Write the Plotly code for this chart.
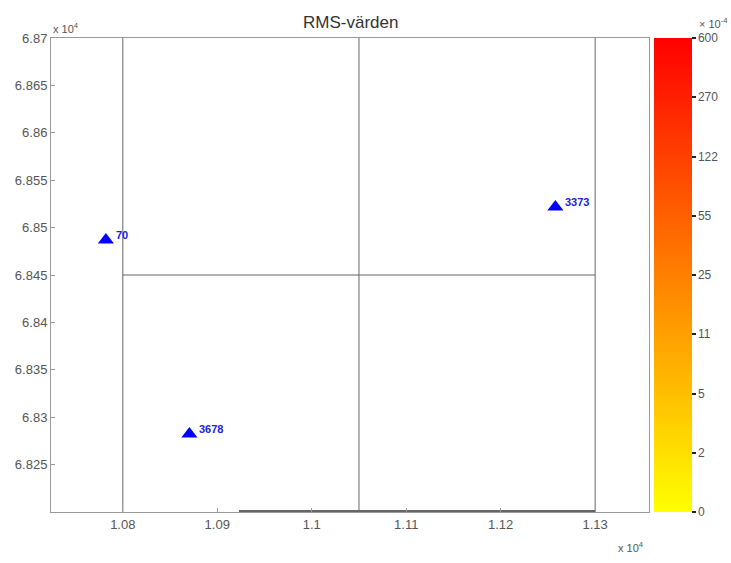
import plotly.graph_objects as go

# Data (axes in units of 1e4)
pt_x = [1.07821, 1.12579, 1.08705]
pt_y = [6.84869, 6.85217, 6.82823]
pt_labels = ["70", "3373", "3678"]

# Boundary lines (x pairs, y pairs)
seg_x = [[1.08, 1.08], [1.105, 1.105], [1.13, 1.13], [1.08, 1.13], [1.0923, 1.13]]
seg_y = [[6.82, 6.87], [6.82, 6.87], [6.82, 6.87], [6.845, 6.845], [6.8201, 6.8201]]
seg_w = [1, 1, 1, 1, 2]

x_ticks = [1.08, 1.09, 1.10, 1.11, 1.12, 1.13]
x_ticktext = ["1.08", "1.09", "1.1", "1.11", "1.12", "1.13"]
y_ticks = [6.825, 6.83, 6.835, 6.84, 6.845, 6.85, 6.855, 6.86, 6.865, 6.87]
y_ticktext = ["6.825", "6.83", "6.835", "6.84", "6.845", "6.85", "6.855", "6.86", "6.865", "6.87"]

cb_ticktext = ["0", "2", "5", "11", "25", "55", "122", "270", "600"]
cb_tickvals = list(range(len(cb_ticktext)))

FONT = "Liberation Sans, Arial, sans-serif"
TXT = "#555555"

fig = go.Figure()

for sx, sy, w in zip(seg_x, seg_y, seg_w):
    fig.add_trace(go.Scatter(x=sx, y=sy, mode="lines",
                             line=dict(color="#666666", width=w),
                             hoverinfo="skip", showlegend=False))

fig.add_trace(go.Scatter(x=pt_x, y=pt_y, mode="markers",
                         marker=dict(symbol="triangle-up", size=14, color="#0000ff",
                                     line=dict(width=0)),
                         showlegend=False))

for x, y, t in zip(pt_x, pt_y, pt_labels):
    fig.add_annotation(x=x, y=y, text="<b>" + t + "</b>", showarrow=False,
                       xanchor="left", yanchor="middle", xshift=8, yshift=5,
                       font=dict(family=FONT, size=11, color="#2020e0"))

# colorbar carrier
fig.add_trace(go.Scatter(x=[None], y=[None], mode="markers",
                         marker=dict(color=[0], cmin=0, cmax=8,
                                     colorscale=[[0, "#ffff00"], [1, "#ff0000"]],
                                     showscale=True,
                                     colorbar=dict(x=1.0083, xanchor="left", xpad=0,
                                                   y=0.5, yanchor="middle", ypad=0,
                                                   len=1, lenmode="fraction",
                                                   thickness=38, outlinewidth=0,
                                                   tickvals=cb_tickvals, ticktext=cb_ticktext,
                                                   ticks="outside", ticklen=4, tickwidth=2,
                                                   tickcolor="#222222",
                                                   tickfont=dict(family=FONT, size=12, color=TXT))),
                         hoverinfo="skip", showlegend=False))

axis_common = dict(showline=True, mirror=True, linecolor="#999999", linewidth=1,
                   ticks="inside", ticklen=4, tickcolor="#999999",
                   showgrid=False, zeroline=False,
                   tickfont=dict(family=FONT, size=13, color=TXT))

fig.update_xaxes(range=[1.0724, 1.1357], tickvals=x_ticks, ticktext=x_ticktext, **axis_common)
fig.update_yaxes(range=[6.82, 6.87], tickvals=y_ticks, ticktext=y_ticktext, **axis_common)

fig.add_annotation(xref="paper", yref="paper", x=0.5, y=1, yanchor="bottom", yshift=4,
                   text="RMS-värden", showarrow=False,
                   font=dict(family=FONT, size=17, color="#333333"))
fig.add_annotation(xref="paper", yref="paper", x=0, y=1, xanchor="left", yanchor="bottom",
                   yshift=1, text="x 10<sup>4</sup>", showarrow=False,
                   font=dict(family=FONT, size=11, color=TXT))
fig.add_annotation(xref="paper", yref="paper", x=0.995, y=0, xanchor="right", yanchor="top",
                   yshift=-26, text="x 10<sup>4</sup>", showarrow=False,
                   font=dict(family=FONT, size=11, color=TXT))
fig.add_annotation(xref="paper", yref="paper", x=1.08, y=1, xanchor="left", yanchor="bottom",
                   yshift=6, text="× 10<sup>-4</sup>", showarrow=False,
                   font=dict(family=FONT, size=11, color=TXT))

fig.update_layout(width=731, height=563, margin=dict(l=51, r=79, t=38, b=51),
                  paper_bgcolor="white", plot_bgcolor="white",
                  font=dict(family=FONT, color=TXT))

fig.write_html("out.html")
